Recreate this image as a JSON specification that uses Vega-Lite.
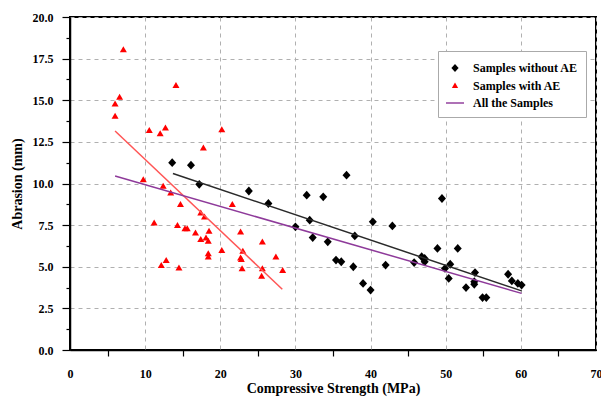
{
  "$schema": "https://vega.github.io/schema/vega-lite/v6.json",
  "width": 526,
  "height": 333,
  "autosize": {"type": "none"},
  "padding": {"left": 70, "top": 17, "right": 5, "bottom": 48},
  "background": "white",
  "config": {
    "font": "Liberation Serif",
    "view": {"stroke": "black", "strokeWidth": 2},
    "axis": {
      "labelFont": "Liberation Serif",
      "labelFontSize": 12,
      "labelFontWeight": "bold",
      "labelColor": "black",
      "titleFont": "Liberation Serif",
      "titleFontSize": 14,
      "titleFontWeight": "bold",
      "titleColor": "black",
      "domainColor": "black",
      "domainWidth": 1.5,
      "tickColor": "black",
      "tickWidth": 1.2,
      "gridColor": "#b0b0b0",
      "gridDash": [4, 4],
      "gridWidth": 1
    },
    "legend": {
      "title": null,
      "orient": "none",
      "legendX": 368,
      "legendY": 34,
      "padding": 8,
      "strokeColor": "#aaaaaa",
      "fillColor": "white",
      "labelFont": "Liberation Serif",
      "labelFontSize": 12,
      "labelFontWeight": "bold",
      "labelColor": "black",
      "labelLimit": 200,
      "labelOffset": 9,
      "rowPadding": 2.5,
      "symbolSize": 324,
      "symbolStrokeWidth": 0
    }
  },
  "datasets": {
    "points": [
      {"group": "Samples with AE", "strength": 6.0, "abrasion": 14.8},
      {"group": "Samples with AE", "strength": 6.6, "abrasion": 15.2},
      {"group": "Samples with AE", "strength": 6.0, "abrasion": 14.05},
      {"group": "Samples with AE", "strength": 7.1, "abrasion": 18.05},
      {"group": "Samples with AE", "strength": 14.1, "abrasion": 15.9},
      {"group": "Samples with AE", "strength": 10.55, "abrasion": 13.2},
      {"group": "Samples with AE", "strength": 12.0, "abrasion": 13.0},
      {"group": "Samples with AE", "strength": 12.7, "abrasion": 13.35},
      {"group": "Samples with AE", "strength": 20.2, "abrasion": 13.25},
      {"group": "Samples with AE", "strength": 17.75, "abrasion": 12.15},
      {"group": "Samples with AE", "strength": 9.75, "abrasion": 10.25},
      {"group": "Samples with AE", "strength": 12.4, "abrasion": 9.85},
      {"group": "Samples with AE", "strength": 13.4, "abrasion": 9.45},
      {"group": "Samples with AE", "strength": 14.7, "abrasion": 8.75},
      {"group": "Samples with AE", "strength": 17.4, "abrasion": 8.25},
      {"group": "Samples with AE", "strength": 17.9, "abrasion": 8.0},
      {"group": "Samples with AE", "strength": 21.6, "abrasion": 8.75},
      {"group": "Samples with AE", "strength": 11.2, "abrasion": 7.65},
      {"group": "Samples with AE", "strength": 14.3, "abrasion": 7.5},
      {"group": "Samples with AE", "strength": 15.3, "abrasion": 7.3},
      {"group": "Samples with AE", "strength": 15.6, "abrasion": 7.3},
      {"group": "Samples with AE", "strength": 16.7, "abrasion": 7.05},
      {"group": "Samples with AE", "strength": 18.5, "abrasion": 7.15},
      {"group": "Samples with AE", "strength": 17.4, "abrasion": 6.65},
      {"group": "Samples with AE", "strength": 18.1, "abrasion": 6.75},
      {"group": "Samples with AE", "strength": 18.4, "abrasion": 6.55},
      {"group": "Samples with AE", "strength": 18.4, "abrasion": 5.8},
      {"group": "Samples with AE", "strength": 18.4, "abrasion": 5.6},
      {"group": "Samples with AE", "strength": 12.15, "abrasion": 5.1},
      {"group": "Samples with AE", "strength": 12.8, "abrasion": 5.4},
      {"group": "Samples with AE", "strength": 14.5, "abrasion": 4.95},
      {"group": "Samples with AE", "strength": 22.7, "abrasion": 7.1},
      {"group": "Samples with AE", "strength": 25.6, "abrasion": 6.5},
      {"group": "Samples with AE", "strength": 20.2, "abrasion": 6.0},
      {"group": "Samples with AE", "strength": 23.0, "abrasion": 5.95},
      {"group": "Samples with AE", "strength": 22.7, "abrasion": 5.55},
      {"group": "Samples with AE", "strength": 22.8, "abrasion": 5.45},
      {"group": "Samples with AE", "strength": 27.4, "abrasion": 5.6},
      {"group": "Samples with AE", "strength": 22.9, "abrasion": 4.9},
      {"group": "Samples with AE", "strength": 25.6, "abrasion": 4.9},
      {"group": "Samples with AE", "strength": 25.5, "abrasion": 4.45},
      {"group": "Samples with AE", "strength": 28.3, "abrasion": 4.8},
      {"group": "Samples without AE", "strength": 13.6, "abrasion": 11.25},
      {"group": "Samples without AE", "strength": 16.1, "abrasion": 11.1},
      {"group": "Samples without AE", "strength": 17.2, "abrasion": 9.95},
      {"group": "Samples without AE", "strength": 23.8, "abrasion": 9.55},
      {"group": "Samples without AE", "strength": 26.4, "abrasion": 8.8},
      {"group": "Samples without AE", "strength": 30.0, "abrasion": 7.4},
      {"group": "Samples without AE", "strength": 31.5, "abrasion": 9.3},
      {"group": "Samples without AE", "strength": 31.9, "abrasion": 7.8},
      {"group": "Samples without AE", "strength": 32.3, "abrasion": 6.75},
      {"group": "Samples without AE", "strength": 33.7, "abrasion": 9.2},
      {"group": "Samples without AE", "strength": 34.3, "abrasion": 6.5},
      {"group": "Samples without AE", "strength": 35.4, "abrasion": 5.4},
      {"group": "Samples without AE", "strength": 36.1, "abrasion": 5.3},
      {"group": "Samples without AE", "strength": 36.8, "abrasion": 10.5},
      {"group": "Samples without AE", "strength": 37.7, "abrasion": 5.0},
      {"group": "Samples without AE", "strength": 37.9, "abrasion": 6.85},
      {"group": "Samples without AE", "strength": 39.0, "abrasion": 4.0},
      {"group": "Samples without AE", "strength": 40.0, "abrasion": 3.6},
      {"group": "Samples without AE", "strength": 40.3, "abrasion": 7.7},
      {"group": "Samples without AE", "strength": 42.0, "abrasion": 5.1},
      {"group": "Samples without AE", "strength": 42.9, "abrasion": 7.45},
      {"group": "Samples without AE", "strength": 45.8, "abrasion": 5.25},
      {"group": "Samples without AE", "strength": 46.8, "abrasion": 5.6},
      {"group": "Samples without AE", "strength": 47.2, "abrasion": 5.5},
      {"group": "Samples without AE", "strength": 47.2, "abrasion": 5.3},
      {"group": "Samples without AE", "strength": 48.9, "abrasion": 6.1},
      {"group": "Samples without AE", "strength": 49.5, "abrasion": 9.1},
      {"group": "Samples without AE", "strength": 49.9, "abrasion": 4.9},
      {"group": "Samples without AE", "strength": 50.4, "abrasion": 4.3},
      {"group": "Samples without AE", "strength": 50.6, "abrasion": 5.15},
      {"group": "Samples without AE", "strength": 51.6, "abrasion": 6.1},
      {"group": "Samples without AE", "strength": 52.7, "abrasion": 3.75},
      {"group": "Samples without AE", "strength": 53.8, "abrasion": 4.1},
      {"group": "Samples without AE", "strength": 53.8, "abrasion": 3.95},
      {"group": "Samples without AE", "strength": 53.9, "abrasion": 4.65},
      {"group": "Samples without AE", "strength": 54.9, "abrasion": 3.15},
      {"group": "Samples without AE", "strength": 55.4, "abrasion": 3.15},
      {"group": "Samples without AE", "strength": 58.3, "abrasion": 4.55},
      {"group": "Samples without AE", "strength": 58.8, "abrasion": 4.15},
      {"group": "Samples without AE", "strength": 59.6, "abrasion": 4.0},
      {"group": "Samples without AE", "strength": 60.1, "abrasion": 3.9}
    ],
    "fits": [
      {"fit": "without", "strength": 13.7, "abrasion": 10.6},
      {"fit": "without", "strength": 60.1, "abrasion": 3.55},
      {"fit": "with", "strength": 6.0, "abrasion": 13.15},
      {"fit": "with", "strength": 28.25, "abrasion": 3.65},
      {"fit": "all", "strength": 6.0, "abrasion": 10.45},
      {"fit": "all", "strength": 60.1, "abrasion": 3.4}
    ]
  },
  "encoding": {
    "x": {
      "field": "strength",
      "type": "quantitative",
      "scale": {"domain": [0, 70], "nice": false, "zero": false},
      "axis": {
        "title": "Compressive Strength (MPa)",
        "values": [0, 5, 10, 15, 20, 25, 30, 35, 40, 45, 50, 55, 60, 65, 70],
        "labelExpr": "datum.value % 10 === 0 ? datum.label : ''",
        "tickSize": 6,
        "tickOpacity": {"condition": {"test": "datum.value % 10 === 0", "value": 0}, "value": 1},
        "gridOpacity": {"condition": {"test": "datum.value % 10 !== 0", "value": 0}, "value": 1},
        "labelPadding": 12,
        "titlePadding": 2,
        "labelFlush": false
      }
    },
    "y": {
      "field": "abrasion",
      "type": "quantitative",
      "scale": {"domain": [0, 20], "nice": false, "zero": false},
      "axis": {
        "title": "Abrasion (mm)",
        "values": [0, 1.25, 2.5, 3.75, 5, 6.25, 7.5, 8.75, 10, 11.25, 12.5, 13.75, 15, 16.25, 17.5, 18.75, 20],
        "labelExpr": "datum.value % 2.5 === 0 ? format(datum.value, '.1f') : ''",
        "tickSize": {"condition": {"test": "datum.value % 2.5 !== 0", "value": 4}, "value": 8},
        "gridOpacity": {"condition": {"test": "datum.value % 2.5 !== 0", "value": 0}, "value": 1},
        "labelPadding": 9,
        "titlePadding": 8,
        "labelFlush": false
      }
    }
  },
  "layer": [
    {
      "data": {"name": "points"},
      "mark": {"type": "point", "filled": true, "opacity": 1, "strokeWidth": 0},
      "encoding": {
        "color": {
          "field": "group",
          "type": "nominal",
          "scale": {
            "domain": ["Samples without AE", "Samples with AE", "All the Samples"],
            "range": ["#000000", "#ff0000", "#8e3a9a"]
          }
        },
        "shape": {
          "field": "group",
          "type": "nominal",
          "scale": {
            "domain": ["Samples without AE", "Samples with AE", "All the Samples"],
            "range": [
              "M -0.4 0 L 0 -0.44 L 0.4 0 L 0 0.44 Z",
              "M -0.35 0.28 L 0 -0.32 L 0.35 0.28 Z",
              "M -1 -0.08 L 1 -0.08 L 1 0.08 L -1 0.08 Z"
            ]
          }
        },
        "size": {"value": 400}
      }
    },
    {
      "data": {"name": "fits"},
      "transform": [{"filter": "datum.fit === 'without'"}],
      "mark": {"type": "line", "color": "#2a2a2a", "strokeWidth": 1.5},
      "encoding": {}
    },
    {
      "data": {"name": "fits"},
      "transform": [{"filter": "datum.fit === 'with'"}],
      "mark": {"type": "line", "color": "#ff5555", "strokeWidth": 1.5},
      "encoding": {}
    },
    {
      "data": {"name": "fits"},
      "transform": [{"filter": "datum.fit === 'all'"}],
      "mark": {"type": "line", "color": "#8e3a9a", "strokeWidth": 1.5},
      "encoding": {}
    }
  ]
}
